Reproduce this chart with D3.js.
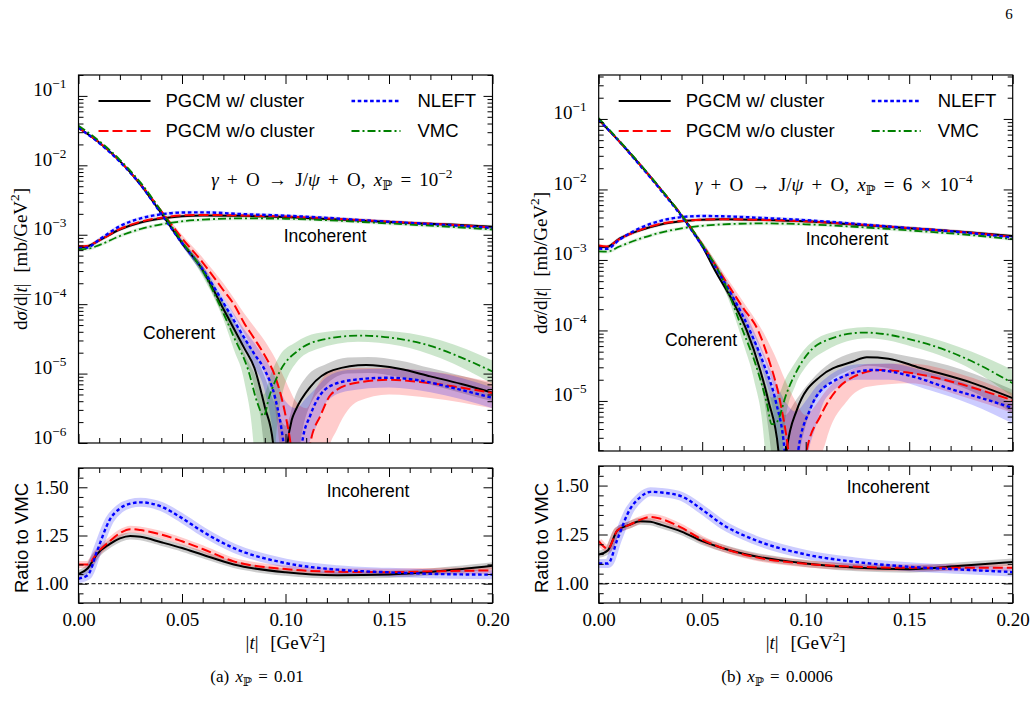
<!DOCTYPE html>
<html>
<head>
<meta charset="utf-8">
<script src="https://cdn.jsdelivr.net/npm/d3@7"></script>
<style>
body { margin: 0; background: #fff; }
</style>
</head>
<body>
<script>
// ---- coherent cross sections, stored as [|t|, log10(dsigma/d|t|)] ----
var cohA_wc = [[0,-1.46],[0.01,-1.67],[0.02,-1.94],[0.03,-2.28],[0.04,-2.69],[0.05,-3.12],[0.06,-3.51],[0.07,-4.07],[0.08,-4.63],[0.085,-4.92],[0.09,-5.48],[0.094,-6.0],[0.0975,-7.5],[0.101,-6.0],[0.103,-5.67],[0.105,-5.52],[0.112,-5.19],[0.123,-4.95],[0.139,-4.876],[0.155,-4.93],[0.17,-5.04],[0.185,-5.15],[0.2,-5.275]];
var cohA_nc = [[0,-1.46],[0.01,-1.67],[0.02,-1.94],[0.03,-2.27],[0.04,-2.66],[0.05,-3.05],[0.06,-3.40],[0.07,-3.80],[0.075,-4.0],[0.08,-4.27],[0.085,-4.5],[0.09,-4.74],[0.095,-5.04],[0.1,-5.6],[0.1024,-6.0],[0.107,-7.5],[0.112,-6.0],[0.117,-5.6],[0.122,-5.3],[0.133,-5.14],[0.15,-5.09],[0.165,-5.12],[0.18,-5.18],[0.2,-5.28]];
var cohA_nl = [[0,-1.46],[0.01,-1.68],[0.02,-1.95],[0.03,-2.28],[0.04,-2.70],[0.05,-3.12],[0.06,-3.5],[0.07,-3.98],[0.08,-4.48],[0.085,-4.72],[0.09,-4.95],[0.095,-5.35],[0.099,-6.0],[0.1035,-7.5],[0.108,-6.0],[0.112,-5.6],[0.121,-5.19],[0.133,-5.09],[0.15,-5.06],[0.165,-5.1],[0.18,-5.2],[0.2,-5.35]];
var cohA_vmc = [[0,-1.43],[0.01,-1.65],[0.02,-1.92],[0.03,-2.25],[0.04,-2.66],[0.05,-3.1],[0.06,-3.52],[0.068,-4.0],[0.075,-4.47],[0.082,-4.95],[0.0865,-5.43],[0.0895,-5.61],[0.092,-5.35],[0.0976,-4.95],[0.1065,-4.66],[0.1165,-4.52],[0.136,-4.453],[0.155,-4.5],[0.17,-4.6],[0.185,-4.77],[0.2,-4.97]];

var cohB_wc = [[0,-1.01],[0.01,-1.32],[0.02,-1.65],[0.03,-2.0],[0.04,-2.37],[0.05,-2.8],[0.056,-3.14],[0.065,-3.6],[0.0715,-4.0],[0.078,-4.56],[0.082,-5.0],[0.0868,-5.7],[0.0888,-7],[0.0908,-5.7],[0.0957,-5.13],[0.107,-4.655],[0.123,-4.44],[0.1295,-4.38],[0.14,-4.4],[0.155,-4.53],[0.18,-4.74],[0.2,-4.96]];
var cohB_nc = [[0,-1.01],[0.01,-1.32],[0.02,-1.65],[0.03,-2.0],[0.04,-2.36],[0.05,-2.78],[0.06,-3.24],[0.07,-3.69],[0.077,-4.0],[0.082,-4.4],[0.0876,-5.0],[0.0916,-5.7],[0.096,-7],[0.1005,-5.7],[0.107,-5.22],[0.115,-4.84],[0.123,-4.66],[0.136,-4.56],[0.15,-4.6],[0.171,-4.73],[0.185,-4.85],[0.2,-4.99]];
var cohB_nl = [[0,-1.01],[0.01,-1.32],[0.02,-1.66],[0.03,-2.01],[0.04,-2.38],[0.05,-2.8],[0.06,-3.28],[0.073,-4.0],[0.08,-4.5],[0.0855,-5.0],[0.0898,-5.7],[0.093,-7],[0.0964,-5.7],[0.102,-5.13],[0.1117,-4.75],[0.1327,-4.56],[0.15,-4.64],[0.171,-4.84],[0.185,-4.96],[0.2,-5.1]];
var cohB_vmc = [[0,-0.99],[0.01,-1.31],[0.02,-1.64],[0.03,-1.99],[0.04,-2.36],[0.05,-2.78],[0.06,-3.28],[0.0696,-4.0],[0.076,-4.5],[0.0812,-5.03],[0.0836,-5.33],[0.086,-5.3],[0.0908,-4.89],[0.0988,-4.42],[0.107,-4.18],[0.128,-4.03],[0.155,-4.16],[0.179,-4.42],[0.2,-4.75]];

// ---- coherent uncertainty bands: [|t|, log10 low, log10 high] ----
var bandA_wc = [[0.04,-2.71,-2.67],[0.05,-3.16,-3.08],[0.06,-3.57,-3.45],[0.07,-4.17,-3.97],[0.08,-4.78,-4.48],[0.085,-5.2,-4.7],[0.09,-6.2,-5.05],[0.095,-9,-5.45],[0.1,-9,-5.75],[0.105,-6.6,-5.3],[0.11,-5.6,-5.05],[0.12,-5.15,-4.86],[0.13,-5.0,-4.77],[0.14,-4.99,-4.76],[0.155,-5.05,-4.81],[0.17,-5.16,-4.92],[0.185,-5.28,-5.03],[0.2,-5.4,-5.15]];
var bandA_nc = [[0.04,-2.68,-2.64],[0.05,-3.1,-3.0],[0.06,-3.47,-3.33],[0.07,-3.9,-3.7],[0.08,-4.42,-4.13],[0.085,-4.7,-4.33],[0.09,-5.0,-4.53],[0.095,-5.5,-4.78],[0.1,-7,-5.1],[0.105,-9,-5.4],[0.11,-9,-5.5],[0.115,-8,-5.2],[0.12,-6.2,-5.0],[0.125,-5.8,-4.95],[0.135,-5.4,-4.92],[0.15,-5.3,-4.92],[0.17,-5.35,-4.97],[0.2,-5.5,-5.12]];
var bandA_nl = [[0.04,-2.72,-2.68],[0.05,-3.16,-3.08],[0.06,-3.57,-3.44],[0.07,-4.08,-3.9],[0.08,-4.62,-4.36],[0.085,-4.9,-4.56],[0.09,-5.25,-4.78],[0.095,-6.2,-5.05],[0.1,-9,-5.4],[0.105,-8,-5.5],[0.11,-6.2,-5.35],[0.115,-5.75,-5.2],[0.12,-5.4,-5.05],[0.13,-5.25,-4.95],[0.15,-5.2,-4.93],[0.17,-5.27,-4.97],[0.2,-5.5,-5.2]];
var bandA_vmc = [[0.04,-2.68,-2.64],[0.05,-3.14,-3.06],[0.06,-3.6,-3.45],[0.07,-4.22,-3.97],[0.075,-4.65,-4.3],[0.08,-5.1,-4.7],[0.085,-6.2,-5.0],[0.0895,-9,-5.3],[0.093,-7,-5.0],[0.097,-5.5,-4.75],[0.105,-4.85,-4.55],[0.115,-4.65,-4.42],[0.135,-4.54,-4.37],[0.155,-4.6,-4.4],[0.175,-4.78,-4.52],[0.2,-5.15,-4.81]];

var bandB_wc = [[0.04,-2.39,-2.35],[0.05,-2.84,-2.76],[0.06,-3.38,-3.25],[0.07,-3.98,-3.8],[0.075,-4.42,-4.1],[0.08,-5.0,-4.5],[0.085,-6.3,-4.9],[0.09,-9,-5.2],[0.095,-6.3,-5.0],[0.1,-5.35,-4.8],[0.11,-4.78,-4.5],[0.12,-4.58,-4.34],[0.13,-4.5,-4.28],[0.15,-4.6,-4.37],[0.175,-4.8,-4.55],[0.2,-5.17,-4.84]];
var bandB_nc = [[0.04,-2.38,-2.34],[0.05,-2.82,-2.74],[0.06,-3.31,-3.17],[0.07,-3.8,-3.6],[0.08,-4.4,-4.05],[0.085,-4.85,-4.35],[0.09,-5.6,-4.7],[0.095,-9,-5.0],[0.1,-9,-5.2],[0.105,-6.2,-5.05],[0.11,-5.55,-4.85],[0.12,-5.0,-4.6],[0.13,-4.8,-4.48],[0.15,-4.75,-4.47],[0.175,-4.93,-4.62],[0.2,-5.17,-4.89]];
var bandB_nl = [[0.04,-2.4,-2.36],[0.05,-2.84,-2.76],[0.06,-3.35,-3.21],[0.07,-3.92,-3.7],[0.08,-4.65,-4.35],[0.085,-5.3,-4.7],[0.09,-7,-5.0],[0.095,-9,-5.15],[0.1,-6,-5.0],[0.105,-5.35,-4.8],[0.11,-4.95,-4.67],[0.125,-4.7,-4.48],[0.14,-4.7,-4.47],[0.16,-4.85,-4.6],[0.18,-5.05,-4.78],[0.2,-5.32,-5.03]];
var bandB_vmc = [[0.04,-2.38,-2.34],[0.05,-2.82,-2.74],[0.06,-3.36,-3.2],[0.07,-4.2,-3.85],[0.075,-4.7,-4.25],[0.08,-5.6,-4.7],[0.0835,-9,-4.95],[0.087,-7,-4.9],[0.09,-5.3,-4.7],[0.095,-4.78,-4.45],[0.1,-4.52,-4.25],[0.11,-4.28,-4.05],[0.13,-4.11,-3.95],[0.155,-4.26,-4.06],[0.18,-4.55,-4.3],[0.2,-4.94,-4.56]];

// ---- incoherent cross sections [mb/GeV^2] on a common |t| grid ----
var incT = [0, 0.004, 0.01, 0.02, 0.03, 0.04, 0.05, 0.06, 0.08, 0.1, 0.12, 0.14, 0.16, 0.18, 0.2];
var incA_wc  = [6.6e-4, 6.75e-4, 8.3e-4, 1.19e-3, 1.50e-3, 1.71e-3, 1.85e-3, 1.90e-3, 1.87e-3, 1.80e-3, 1.69e-3, 1.58e-3, 1.48e-3, 1.40e-3, 1.30e-3];
var incA_nc  = [6.8e-4, 6.9e-4, 8.3e-4, 1.21e-3, 1.54e-3, 1.76e-3, 1.90e-3, 1.93e-3, 1.89e-3, 1.83e-3, 1.72e-3, 1.60e-3, 1.49e-3, 1.39e-3, 1.27e-3];
var incA_nl  = [6.4e-4, 6.5e-4, 8.5e-4, 1.33e-3, 1.72e-3, 1.97e-3, 2.09e-3, 2.10e-3, 1.98e-3, 1.88e-3, 1.75e-3, 1.60e-3, 1.48e-3, 1.37e-3, 1.25e-3];
var incA_vmc = [6.2e-4, 6.25e-4, 7.1e-4, 9.6e-4, 1.21e-3, 1.41e-3, 1.56e-3, 1.65e-3, 1.72e-3, 1.70e-3, 1.62e-3, 1.51e-3, 1.40e-3, 1.30e-3, 1.19e-3];
var incB_wc  = [1.52e-3, 1.53e-3, 2.0e-3, 2.64e-3, 3.19e-3, 3.53e-3, 3.71e-3, 3.79e-3, 3.70e-3, 3.53e-3, 3.24e-3, 2.95e-3, 2.70e-3, 2.46e-3, 2.19e-3];
var incB_nc  = [1.60e-3, 1.55e-3, 1.98e-3, 2.66e-3, 3.26e-3, 3.58e-3, 3.73e-3, 3.78e-3, 3.70e-3, 3.52e-3, 3.26e-3, 2.97e-3, 2.70e-3, 2.43e-3, 2.13e-3];
var incB_nl  = [1.45e-3, 1.44e-3, 1.94e-3, 2.84e-3, 3.59e-3, 4.05e-3, 4.2e-3, 4.16e-3, 3.93e-3, 3.67e-3, 3.33e-3, 2.98e-3, 2.69e-3, 2.40e-3, 2.08e-3];
var incB_vmc = [1.32e-3, 1.31e-3, 1.55e-3, 2.0e-3, 2.45e-3, 2.8e-3, 3.05e-3, 3.2e-3, 3.3e-3, 3.2e-3, 3.0e-3, 2.75e-3, 2.5e-3, 2.25e-3, 1.97e-3];

// ---- incoherent ratio to VMC ----
var ratioT = [0, 0.0045, 0.009, 0.015, 0.02, 0.025, 0.03, 0.04, 0.05, 0.06, 0.075, 0.1, 0.125, 0.15, 0.175, 0.2];
var ratioA_wc = [1.05, 1.08, 1.154, 1.205, 1.235, 1.248, 1.243, 1.215, 1.185, 1.15, 1.10, 1.059, 1.044, 1.048, 1.066, 1.093];
var ratioA_nc = [1.10, 1.10, 1.16, 1.22, 1.262, 1.283, 1.278, 1.255, 1.22, 1.18, 1.116, 1.076, 1.062, 1.06, 1.065, 1.069];
var ratioA_nl = [1.026, 1.045, 1.17, 1.33, 1.39, 1.415, 1.422, 1.40, 1.34, 1.27, 1.185, 1.107, 1.073, 1.059, 1.05, 1.047];
var ratioB_wc = [1.148, 1.17, 1.27, 1.30, 1.318, 1.315, 1.30, 1.265, 1.216, 1.18, 1.14, 1.102, 1.08, 1.073, 1.09, 1.11];
var ratioB_nc = [1.216, 1.178, 1.27, 1.30, 1.325, 1.34, 1.33, 1.285, 1.224, 1.18, 1.136, 1.1, 1.085, 1.08, 1.08, 1.08];
var ratioB_nl = [1.102, 1.102, 1.224, 1.377, 1.44, 1.468, 1.465, 1.445, 1.377, 1.30, 1.224, 1.148, 1.109, 1.085, 1.071, 1.058];

var seriesNames = ["PGCM w/ cluster", "PGCM w/o cluster", "NLEFT", "VMC"];
var xTicks = [0, 0.05, 0.10, 0.15, 0.20];
var ratioTicks = [1.00, 1.25, 1.50];

var styles = [
    {color: "#000000", dash: null, width: 2, band: "rgba(0,0,0,0.2)"},
    {color: "#ff0000", dash: "10,4", width: 2, band: "rgba(255,0,0,0.2)"},
    {color: "#0000ff", dash: "3.6,2.6", width: 2.4, band: "rgba(0,0,255,0.2)"},
    {color: "#008000", dash: "8,3,2,3", width: 1.8, band: "rgba(0,128,0,0.2)"}
];

var SERIF = "Liberation Serif, DejaVu Serif, serif";
var SANS = "Liberation Sans, DejaVu Sans, sans-serif";
var FS = 19;

var panels = [
    {x0: 78.5, x1: 492.5, top: 75, mid: 443, rTop: 468, rBot: 603, yDom: [1e-6, 0.2],
     coh: [cohA_wc, cohA_nc, cohA_nl, cohA_vmc], band: [bandA_wc, bandA_nc, bandA_nl, bandA_vmc],
     inc: [incA_wc, incA_nc, incA_nl, incA_vmc], ratio: [ratioA_wc, ratioA_nc, ratioA_nl],
     react: [{t: " = 10"}, {t: "\u22122", sup: 1}], reactY: 186,
     incLab: [325, 236], cohLab: [179, 333], rLab: [368, 491],
     cap: "(a) ", capVal: " = 0.01", capX: 257},
    {x0: 598.7, x1: 1012.7, top: 75, mid: 451, rTop: 466, rBot: 603, yDom: [1.95e-6, 0.42],
     coh: [cohB_wc, cohB_nc, cohB_nl, cohB_vmc], band: [bandB_wc, bandB_nc, bandB_nl, bandB_vmc],
     inc: [incB_wc, incB_nc, incB_nl, incB_vmc], ratio: [ratioB_wc, ratioB_nc, ratioB_nl],
     react: [{t: " = 6 \u00d7 10"}, {t: "\u22124", sup: 1}], reactY: 191,
     incLab: [847, 239], cohLab: [701, 340], rLab: [888, 487],
     cap: "(b) ", capVal: " = 0.0006", capX: 777}
];

var svg = d3.select("body").append("svg")
    .attr("width", 1035)
    .attr("height", 709);

// small helper for latex-like text with italics, sub- and superscripts
function math(text, parts, fs) {
    var shift = 0;
    parts.forEach(function(p) {
        var target = p.sup ? -0.42 * fs : (p.sub ? 0.22 * fs : 0);
        var ts = text.append("tspan").attr("dy", target - shift).text(p.t);
        shift = target;
        if (p.sup || p.sub) ts.attr("font-size", fs * 0.7);
        if (p.i) ts.attr("font-style", "italic");
    });
}

function styleLine(sel, st) {
    sel.attr("fill", "none")
        .attr("stroke", st.color)
        .attr("stroke-width", st.width)
        .attr("stroke-dasharray", st.dash);
}

function tickRange(a, b, step) {
    var out = [];
    for (var v = a; v <= b + 1e-9; v += step) out.push(+v.toFixed(4));
    return out;
}

svg.append("text")
    .attr("x", 1009).attr("y", 19)
    .attr("text-anchor", "middle")
    .attr("font-family", SERIF).attr("font-size", 15)
    .text("6");

panels.forEach(function(P, pi) {
    var x = d3.scaleLinear().domain([0, 0.2]).range([P.x0, P.x1]);
    var y = d3.scaleLog().domain(P.yDom).range([P.mid, P.top]);
    var yr = d3.scaleLinear().domain([0.9, 1.6]).range([P.rBot, P.rTop]);
    var W = P.x1 - P.x0;

    var clipTop = "clipTop" + pi, clipBot = "clipBot" + pi;
    svg.append("clipPath").attr("id", clipTop).append("rect")
        .attr("x", P.x0).attr("y", P.top).attr("width", W).attr("height", P.mid - P.top);
    svg.append("clipPath").attr("id", clipBot).append("rect")
        .attr("x", P.x0).attr("y", P.rTop).attr("width", W).attr("height", P.rBot - P.rTop);

    var lineLog = d3.line()
        .x(d => x(d[0]))
        .y(d => y(Math.pow(10, d[1])))
        .curve(d3.curveMonotoneX);
    var areaLog = d3.area()
        .x(d => x(d[0]))
        .y0(d => y(Math.pow(10, d[1])))
        .y1(d => y(Math.pow(10, d[2])))
        .curve(d3.curveMonotoneX);
    var lineInc = d3.line()
        .x((d, i) => x(incT[i]))
        .y(d => y(d))
        .curve(d3.curveMonotoneX);
    var lineRatio = d3.line()
        .x((d, i) => x(ratioT[i]))
        .y(d => yr(d))
        .curve(d3.curveMonotoneX);

    // ---------------- top panel ----------------
    var gt = svg.append("g").attr("clip-path", "url(#" + clipTop + ")");
    P.band.forEach(function(b, i) {
        gt.append("path").attr("d", areaLog(b)).attr("fill", styles[i].band).attr("stroke", "none");
    });
    P.inc.forEach(function(s, i) {
        gt.append("path").attr("d", lineInc(s)).attr("fill", "none")
            .attr("stroke", styles[i].band).attr("stroke-opacity", 0.6).attr("stroke-width", 3.5)
            .attr("stroke-linejoin", "round");
    });
    P.coh.forEach(function(s, i) {
        gt.append("path").attr("d", lineLog(s)).call(styleLine, styles[i]);
        gt.append("path").attr("d", lineInc(P.inc[i])).call(styleLine, styles[i]);
    });

    // ---------------- ratio panel ----------------
    var gb = svg.append("g").attr("clip-path", "url(#" + clipBot + ")");
    gb.append("line")
        .attr("x1", P.x0).attr("x2", P.x1)
        .attr("y1", yr(1)).attr("y2", yr(1))
        .attr("stroke", "#000").attr("stroke-width", 1)
        .attr("stroke-dasharray", "4,2.5");
    P.ratio.forEach(function(s, i) {
        gb.append("path").attr("d", lineRatio(s)).attr("fill", "none")
            .attr("stroke", styles[i].band).attr("stroke-width", i == 2 ? 9 : 7)
            .attr("stroke-linejoin", "round");
    });
    P.ratio.forEach(function(s, i) {
        gb.append("path").attr("d", lineRatio(s)).call(styleLine, styles[i]);
    });

    // ---------------- axes (ticks inside, on all four sides) ----------------
    var xMinor = tickRange(0, 0.2, 0.01).filter(v => xTicks.indexOf(v) < 0);
    var decades = [], logMinor = [];
    for (var e = -6; e <= 0; e++) {
        var dv = Math.pow(10, e);
        if (dv >= P.yDom[0] && dv <= P.yDom[1]) decades.push(dv);
        for (var k = 2; k <= 9; k++) {
            var mv = k * Math.pow(10, e - 1);
            if (mv >= P.yDom[0] && mv <= P.yDom[1]) logMinor.push(mv);
        }
    }
    var rMinor = tickRange(0.9, 1.6, 0.05).filter(v => ratioTicks.indexOf(v) < 0);

    function addAxis(axis, tx, ty, labelled) {
        var g = svg.append("g").attr("transform", "translate(" + tx + "," + ty + ")").call(axis);
        g.select(".domain").remove();
        g.selectAll("line").attr("stroke", "#000").attr("stroke-width", 1);
        g.selectAll("text").attr("font-family", SERIF).attr("font-size", FS).attr("fill", "#000");
        if (!labelled) g.selectAll("text").remove();
        return g;
    }

    [[P.top, P.mid], [P.rTop, P.rBot]].forEach(function(rng, r) {
        addAxis(d3.axisTop(x).tickValues(xTicks).tickSize(-9), 0, rng[0], false);
        addAxis(d3.axisTop(x).tickValues(xMinor).tickSize(-5), 0, rng[0], false);
        addAxis(d3.axisBottom(x).tickValues(xMinor).tickSize(-5), 0, rng[1], false);
        addAxis(d3.axisBottom(x).tickValues(xTicks).tickSize(-9).tickPadding(10)
            .tickFormat(d3.format(".2f")), 0, rng[1], r == 1);
    });

    var yl = addAxis(d3.axisLeft(y).tickValues(decades).tickSize(-9).tickPadding(12), P.x0, 0, true);
    yl.selectAll("text").each(function(d) {
        var t = d3.select(this).text("");
        math(t, [{t: "10"}, {t: "\u2212" + Math.round(-Math.log10(d)), sup: 1}], FS);
    });
    addAxis(d3.axisLeft(y).tickValues(logMinor).tickSize(-5), P.x0, 0, false);
    addAxis(d3.axisRight(y).tickValues(decades).tickSize(-9), P.x1, 0, false);
    addAxis(d3.axisRight(y).tickValues(logMinor).tickSize(-5), P.x1, 0, false);

    addAxis(d3.axisLeft(yr).tickValues(ratioTicks).tickSize(-9).tickPadding(10)
        .tickFormat(d3.format(".2f")), P.x0, 0, true);
    addAxis(d3.axisLeft(yr).tickValues(rMinor).tickSize(-5), P.x0, 0, false);
    addAxis(d3.axisRight(yr).tickValues(ratioTicks).tickSize(-9), P.x1, 0, false);
    addAxis(d3.axisRight(yr).tickValues(rMinor).tickSize(-5), P.x1, 0, false);

    [[P.top, P.mid], [P.rTop, P.rBot]].forEach(function(rng) {
        svg.append("rect")
            .attr("x", P.x0).attr("y", rng[0])
            .attr("width", W).attr("height", rng[1] - rng[0])
            .attr("fill", "none").attr("stroke", "#000").attr("stroke-width", 1.2);
    });

    // ---------------- legend ----------------
    var legendRows = [[0, 101], [1, 131], [2, 101], [3, 131]];
    legendRows.forEach(function(row, j) {
        var i = row[0];
        var lx0 = P.x0 + (j < 2 ? 20 : 273);
        var lx1 = P.x0 + (j < 2 ? 72 : 322);
        svg.append("line")
            .attr("x1", lx0).attr("x2", lx1)
            .attr("y1", row[1]).attr("y2", row[1])
            .call(styleLine, styles[i]);
        svg.append("text")
            .attr("x", P.x0 + (j < 2 ? 87 : 339)).attr("y", row[1])
            .attr("dy", "0.35em")
            .attr("font-family", SANS).attr("font-size", 18.5)
            .text(seriesNames[i]);
    });

    // ---------------- annotations ----------------
    var react = svg.append("text")
        .attr("x", P.x1 - 40).attr("y", P.reactY)
        .attr("text-anchor", "end")
        .attr("word-spacing", 3.5)
        .attr("font-family", SERIF).attr("font-size", FS);
    math(react, [{t: "\u03b3", i: 1}, {t: " + O \u2192 J/"}, {t: "\u03c8", i: 1}, {t: " + O, "},
        {t: "x", i: 1}, {t: "\u2119", sub: 1}].concat(P.react), FS);

    [[P.incLab, "Incoherent"], [P.cohLab, "Coherent"], [P.rLab, "Incoherent"]].forEach(function(a) {
        svg.append("text")
            .attr("x", a[0][0]).attr("y", a[0][1])
            .attr("dy", "0.35em")
            .attr("text-anchor", "middle")
            .attr("font-family", SANS).attr("font-size", 17.5)
            .text(a[1]);
    });

    var ylab = svg.append("text")
        .attr("transform", "translate(" + (P.x0 - 52) + "," + ((P.top + P.mid) / 2) + ") rotate(-90)")
        .attr("text-anchor", "middle")
        .attr("word-spacing", 6)
        .attr("font-family", SERIF).attr("font-size", FS);
    math(ylab, [{t: "d"}, {t: "\u03c3", i: 1}, {t: "/d|"}, {t: "t", i: 1}, {t: "| [mb/GeV"}, {t: "2", sup: 1}, {t: "]"}], FS);

    svg.append("text")
        .attr("transform", "translate(" + (P.x0 - 51) + "," + 538 + ") rotate(-90)")
        .attr("text-anchor", "middle")
        .attr("font-family", SANS).attr("font-size", 18.5)
        .text("Ratio to VMC");

    var xlab = svg.append("text")
        .attr("x", (P.x0 + P.x1) / 2).attr("y", 649)
        .attr("text-anchor", "middle")
        .attr("word-spacing", 7)
        .attr("font-family", SERIF).attr("font-size", FS);
    math(xlab, [{t: "|"}, {t: "t", i: 1}, {t: "| [GeV"}, {t: "2", sup: 1}, {t: "]"}], FS);

    var cap = svg.append("text")
        .attr("x", P.capX).attr("y", 682)
        .attr("text-anchor", "middle")
        .attr("word-spacing", 2)
        .attr("font-family", SERIF).attr("font-size", 17);
    math(cap, [{t: P.cap}, {t: "x", i: 1}, {t: "\u2119", sub: 1}, {t: P.capVal}], 17);
});
</script>
</body>
</html>
